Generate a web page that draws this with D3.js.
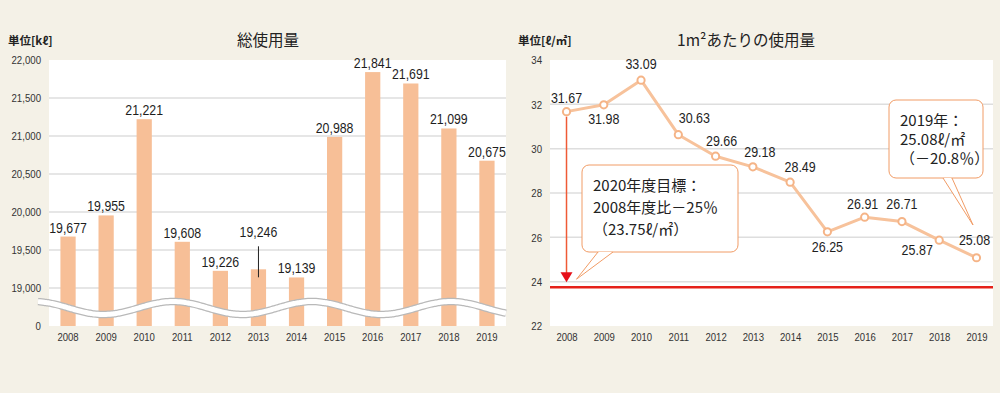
<!DOCTYPE html>
<html lang="ja">
<head>
<meta charset="UTF-8">
<title>総使用量 / 1m²あたりの使用量</title>
<script src="https://cdn.jsdelivr.net/npm/d3@7"></script>
<style>
    html, body { margin: 0; padding: 0; background: #f4f1e7; }
    svg { display: block; }
    .num { font-family: "Liberation Sans", Arial, sans-serif; fill: #1e1e1e; }
    .jp { font-family: "Noto Sans CJK JP", "Noto Sans", sans-serif; fill: #222; }
    .tick text { font-family: "Liberation Sans", Arial, sans-serif; fill: #333; }
</style>
</head>
<body>
<div id="chart"></div>
<script>
    // data
    const years = ['2008', '2009', '2010', '2011', '2012', '2013', '2014', '2015', '2016', '2017', '2018', '2019'];
    const totalUse = [19677, 19955, 21221, 19608, 19226, 19246, 19139, 20988, 21841, 21691, 21099, 20675];
    const perArea = [31.67, 31.98, 33.09, 30.63, 29.66, 29.18, 28.49, 26.25, 26.91, 26.71, 25.87, 25.08];
    const leftTicks = [18500, 19000, 19500, 20000, 20500, 21000, 21500, 22000];
    const leftTickLabels = ['0', '19,000', '19,500', '20,000', '20,500', '21,000', '21,500', '22,000'];
    const rightTicks = [22, 24, 26, 28, 30, 32, 34];
    const target = 23.75;
    const targetNote = ['2020年度目標：', '2008年度比－25％', '（23.75ℓ/㎡）'];
    const latestNote = ['2019年：', '25.08ℓ/㎡', '（－20.8％）'];

    const width = 1000, height = 393;
    const barColor = '#f7bf97', lineColor = '#f7c29b', gridColor = '#dedede', noteColor = '#f19c66';

    // squeeze text horizontally, the original uses a condensed face
    const condense = (sel, k) => sel.each(function () {
        const w = this.getComputedTextLength();
        this.setAttribute('textLength', w * k);
        this.setAttribute('lengthAdjust', 'spacingAndGlyphs');
    });

    const svg = d3.select('#chart').append('svg').attr('width', width).attr('height', height);
    svg.append('rect').attr('width', width).attr('height', height).attr('fill', '#f4f1e7');

    // ---------- left: 総使用量 ----------
    const L = {left: 49, right: 506, top: 60, bottom: 326};
    const xL = d3.scaleBand().domain(years).range([L.left, L.right]).paddingInner(0.6).paddingOuter(0.3);
    const yL = d3.scaleLinear().domain([18500, 22000]).range([L.bottom, L.top]);

    svg.append('rect').attr('x', L.left).attr('y', L.top)
        .attr('width', L.right - L.left).attr('height', L.bottom - L.top).attr('fill', '#fff');

    svg.append('g').selectAll('line').data(leftTicks.filter(t => t > 18500 && t < 22000)).join('line')
        .attr('x1', L.left).attr('x2', L.right)
        .attr('y1', d => yL(d)).attr('y2', d => yL(d))
        .attr('stroke', gridColor).attr('stroke-width', 1.5);

    svg.append('g').selectAll('rect').data(totalUse).join('rect')
        .attr('x', (d, i) => xL(years[i]))
        .attr('y', d => yL(d))
        .attr('width', xL.bandwidth())
        .attr('height', d => L.bottom - yL(d))
        .attr('fill', barColor);

    // wave break between 0 and 19,000
    const waveY = (yL(19000) + L.bottom) / 2 + 1;
    const wavePts = d3.range(38, 508, 2).map(x => [x, waveY - 6.5 * Math.cos(2 * Math.PI * (x - 173) / 139)]);
    const wave = d3.line().curve(d3.curveBasis);
    svg.append('path').attr('d', wave(wavePts)).attr('fill', 'none').attr('stroke', '#b9b9b9').attr('stroke-width', 7.5);
    svg.append('path').attr('d', wave(wavePts)).attr('fill', 'none').attr('stroke', '#fff').attr('stroke-width', 5);

    const axL = svg.append('g').attr('transform', `translate(${L.left - 8},0)`)
        .call(d3.axisLeft(yL).tickValues(leftTicks).tickFormat((d, i) => leftTickLabels[i]).tickSize(0).tickPadding(0));
    axL.select('.domain').remove();
    axL.selectAll('text').attr('font-size', 11.5).call(condense, 0.84);

    const axLx = svg.append('g').attr('transform', `translate(0,${L.bottom + 7})`)
        .call(d3.axisBottom(xL).tickSize(0).tickPadding(0));
    axLx.select('.domain').remove();
    axLx.selectAll('text').attr('font-size', 11.5).attr('dy', '0.71em').call(condense, 0.83);

    // value labels (2013 lifted with leader)
    const lift = {'2013': 28};
    svg.append('g').selectAll('text').data(totalUse).join('text')
        .attr('class', 'num')
        .attr('x', (d, i) => xL(years[i]) + xL.bandwidth() / 2)
        .attr('y', (d, i) => yL(d) - 4 - (lift[years[i]] || 0))
        .attr('text-anchor', 'middle').attr('font-size', 14.5)
        .text(d => d3.format(',')(d))
        .call(condense, 0.85);
    const i13 = years.indexOf('2013');
    svg.append('line')
        .attr('x1', xL('2013') + xL.bandwidth() / 2).attr('x2', xL('2013') + xL.bandwidth() / 2)
        .attr('y1', yL(totalUse[i13]) - 23).attr('y2', yL(totalUse[i13]) + 8)
        .attr('stroke', '#222').attr('stroke-width', 1);

    svg.append('text').attr('class', 'jp').attr('x', 8).attr('y', 45)
        .attr('font-size', 11.5).attr('font-weight', 700).text('単位[kℓ]');
    svg.append('text').attr('class', 'jp').attr('x', 268).attr('y', 46)
        .attr('text-anchor', 'middle').attr('font-size', 15.5).text('総使用量');

    // ---------- right: 1m²あたりの使用量 ----------
    const R = {left: 550, right: 993, top: 60, bottom: 326};
    const xR = d3.scalePoint().domain(years).range([R.left, R.right]).padding(0.443);
    const yR = d3.scaleLinear().domain([22, 34]).range([R.bottom, R.top]);

    svg.append('rect').attr('x', R.left).attr('y', R.top)
        .attr('width', R.right - R.left).attr('height', R.bottom - R.top).attr('fill', '#fff');

    svg.append('g').selectAll('line').data(rightTicks.filter(t => t > 22 && t < 34)).join('line')
        .attr('x1', R.left).attr('x2', R.right)
        .attr('y1', d => yR(d)).attr('y2', d => yR(d))
        .attr('stroke', gridColor).attr('stroke-width', 1.5);

    const axR = svg.append('g').attr('transform', `translate(${R.left - 8},0)`)
        .call(d3.axisLeft(yR).tickValues(rightTicks).tickSize(0).tickPadding(0));
    axR.select('.domain').remove();
    axR.selectAll('text').attr('font-size', 11.5).call(condense, 0.84);

    const axRx = svg.append('g').attr('transform', `translate(0,${R.bottom + 7})`)
        .call(d3.axisBottom(xR).tickSize(0).tickPadding(0));
    axRx.select('.domain').remove();
    axRx.selectAll('text').attr('font-size', 11.5).attr('dy', '0.71em').call(condense, 0.83);

    // target line
    svg.append('line').attr('x1', R.left).attr('x2', R.right)
        .attr('y1', yR(target)).attr('y2', yR(target))
        .attr('stroke', '#e5221a').attr('stroke-width', 2.5);

    // arrow from 2008 down to target
    const ax = xR('2008');
    const tip = yR(target) - 5;
    svg.append('line').attr('x1', ax).attr('x2', ax)
        .attr('y1', yR(perArea[0]) + 5).attr('y2', tip - 8)
        .attr('stroke', '#ef5a36').attr('stroke-width', 1.5);
    svg.append('path')
        .attr('d', `M${ax - 6},${tip - 10}L${ax + 6},${tip - 10}L${ax},${tip}Z`)
        .attr('fill', '#e60f19');

    const line = d3.line().x((d, i) => xR(years[i])).y(d => yR(d));
    svg.append('path').datum(perArea).attr('d', line)
        .attr('fill', 'none').attr('stroke', lineColor).attr('stroke-width', 3).attr('stroke-linejoin', 'round');
    svg.append('g').selectAll('circle').data(perArea).join('circle')
        .attr('cx', (d, i) => xR(years[i])).attr('cy', d => yR(d)).attr('r', 3.6)
        .attr('fill', '#fff').attr('stroke', '#f5b487').attr('stroke-width', 2);

    // label offsets [dx, dy] from point
    const offR = {
        '2008': [0, -9], '2009': [0, 19], '2010': [0, -11], '2011': [16, -11.5],
        '2012': [6, -10], '2013': [7, -9.5], '2014': [10, -10], '2015': [0, 20],
        '2016': [-2, -8], '2017': [0, -12.5], '2018': [-22, 15], '2019': [-2, -13]
    };
    svg.append('g').selectAll('text').data(perArea).join('text')
        .attr('class', 'num')
        .attr('x', (d, i) => xR(years[i]) + offR[years[i]][0])
        .attr('y', (d, i) => yR(d) + offR[years[i]][1])
        .attr('text-anchor', 'middle').attr('font-size', 14.5)
        .text(d => d3.format('.2f')(d))
        .call(condense, 0.86);

    // callouts
    function callout(x, y, w, h, tail, lines, lh) {
        const g = svg.append('g');
        const [t1, t2, tp] = tail;
        g.append('rect').attr('x', x).attr('y', y).attr('width', w).attr('height', h)
            .attr('rx', 7).attr('fill', '#fff').attr('stroke', noteColor).attr('stroke-width', 1);
        g.append('path')
            .attr('d', `M${t1 + 0.8},${y + h}L${tp[0]},${tp[1]}L${t2 - 0.8},${y + h}`)
            .attr('fill', '#fff').attr('stroke', 'none');
        g.append('path')
            .attr('d', `M${t1},${y + h}L${tp[0]},${tp[1]}L${t2},${y + h}`)
            .attr('fill', 'none').attr('stroke', noteColor).attr('stroke-width', 1);
        g.selectAll('text').data(lines).join('text')
            .attr('class', 'jp').attr('x', x + 11).attr('y', (d, i) => y + 26 + i * lh)
            .attr('font-size', 15).text(d => d);
    }
    callout(582, 165, 156, 87, [598, 613, [ax + 10, tip - 3]], targetNote, 22);
    callout(889, 100, 94, 78, [943, 952, [973, 225]], latestNote, 19);

    svg.append('text').attr('class', 'jp').attr('x', 518).attr('y', 45)
        .attr('font-size', 11.5).attr('font-weight', 700).text('単位[ℓ/㎡]');
    svg.append('text').attr('class', 'jp').attr('x', 746).attr('y', 46)
        .attr('text-anchor', 'middle').attr('font-size', 15.5).text('1m²あたりの使用量');
</script>
</body>
</html>
